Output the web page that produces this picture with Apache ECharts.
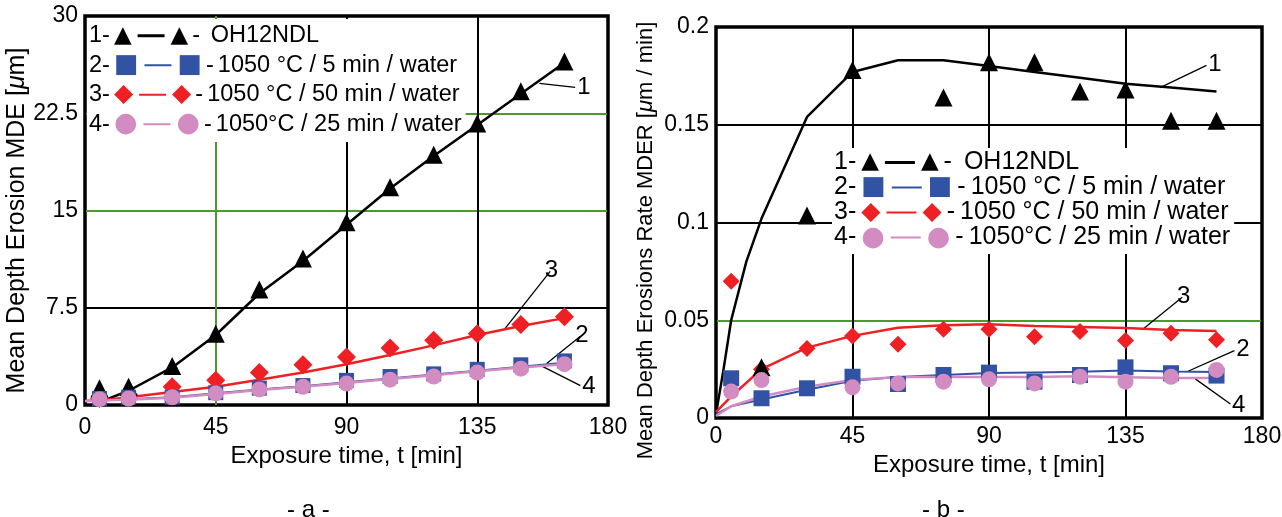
<!DOCTYPE html>
<html>
<head>
<meta charset="utf-8">
<script src="https://cdn.jsdelivr.net/npm/echarts@6/dist/echarts.min.js"></script>
<style>
  html, body { margin: 0; padding: 0; background: #fff; }
  #chart { width: 1282px; height: 517px; }
</style>
</head>
<body>
<div id="chart"></div>
<script>
// ---- data ----
// (a) mean depth erosion MDE [um]
const tA = [5, 15, 30, 45, 60, 75, 90, 105, 120, 135, 150, 165]
const mdeOH = [1.3, 1.4, 3.0, 5.5, 8.9, 11.3, 14.1, 16.8, 19.3, 21.7, 24.2, 26.5]
const mde5 = [0.5, 0.6, 0.6, 0.95, 1.3, 1.5, 1.9, 2.2, 2.4, 2.75, 3.1, 3.4]
const mde50 = [0.5, 0.8, 1.4, 1.9, 2.5, 3.1, 3.7, 4.4, 5.0, 5.5, 6.2, 6.8]
const mde25 = [0.45, 0.5, 0.6, 0.9, 1.2, 1.4, 1.65, 1.95, 2.2, 2.5, 2.8, 3.15]
// fitted curves (a)
const tFitOH = [7, 15, 30, 45, 60, 75, 90, 105, 120, 135, 150, 165]
const fitOH = [0.4, 1.1, 2.9, 5.4, 8.6, 11.1, 13.9, 16.7, 19.2, 21.6, 24.0, 26.4]
const tFitA = [0, 5, 15, 30, 45, 60, 75, 90, 105, 120, 135, 150, 165]
const fit50 = [0.3, 0.35, 0.6, 1.0, 1.4, 1.95, 2.5, 3.15, 3.85, 4.6, 5.4, 6.1, 6.7]
const fit5 = [0.3, 0.35, 0.45, 0.6, 0.9, 1.2, 1.45, 1.75, 2.05, 2.35, 2.65, 2.95, 3.25]
const fit25 = [0.3, 0.35, 0.4, 0.55, 0.85, 1.15, 1.4, 1.7, 2.0, 2.3, 2.6, 2.9, 3.15]

// (b) mean depth erosion rate MDER [um/min]
const tOHb = [15, 30, 45, 75, 90, 105, 120, 135, 150, 165]
const rateOH = [0.026, 0.1036, 0.178, 0.164, 0.182, 0.182, 0.167, 0.168, 0.152, 0.152]
const tB = [5, 15, 30, 45, 60, 75, 90, 105, 120, 135, 150, 165]
const rate50 = [0.070, 0.025, 0.0356, 0.042, 0.0377, 0.0454, 0.0454, 0.0416, 0.0442, 0.0396, 0.0433, 0.040]
const rate5 = [0.0203, 0.0101, 0.0152, 0.0211, 0.0174, 0.022, 0.0232, 0.0186, 0.022, 0.0259, 0.0229, 0.0217]
const t25b = [5, 15, 45, 60, 75, 90, 105, 120, 135, 150, 165]
const rate25 = [0.0135, 0.0194, 0.0157, 0.0177, 0.0186, 0.0198, 0.0177, 0.0211, 0.0186, 0.0211, 0.0246]
// fitted curves (b)
const tFitOHb = [0, 2.5, 5, 10, 15, 30, 45, 60, 75, 90, 105, 120, 135, 150, 165]
const fitOHb = [0.002, 0.025, 0.05, 0.08, 0.102, 0.154, 0.177, 0.183, 0.183, 0.180, 0.177, 0.174, 0.171, 0.169, 0.167]
const tFitB = [0, 5, 15, 30, 45, 60, 75, 90, 105, 120, 135, 150, 165]
const fit50b = [0.003, 0.011, 0.025, 0.036, 0.042, 0.0462, 0.0475, 0.048, 0.047, 0.0465, 0.046, 0.045, 0.0445]
const fit5b = [0.002, 0.006, 0.0095, 0.0145, 0.019, 0.021, 0.022, 0.023, 0.0233, 0.0236, 0.0243, 0.0238, 0.0235]
const fit25b = [0.001, 0.006, 0.011, 0.016, 0.0195, 0.021, 0.021, 0.021, 0.021, 0.0213, 0.0209, 0.0205, 0.0204]

// curve number callouts: [from, to, label] in data units
const calloutsA = [
  [[156.4, 24.8], [168.7, 24.5], '1'],
  [[144.2, 5.8], [160.1, 10.3], '3'],
  [[158.9, 3.2], [170.5, 5.3], '2'],
  [[156.4, 3.1], [170.5, 1.5], '4']
]
const calloutsB = [
  [[146.4, 0.169], [161.7, 0.1804], '1'],
  [[140.9, 0.0456], [153.7, 0.0618], '3'],
  [[155.6, 0.0239], [170.9, 0.0345], '2'],
  [[158.0, 0.020], [169.6, 0.0072], '4']
]

const seriesNames = ['OH12NDL', '1050 °C / 5 min / water', '1050 °C / 50 min / water', '1050°C / 25 min / water']

// ---- styles ----
const FONT = '"Liberation Sans", Arial, sans-serif'
const SYM = '"DejaVu Sans", sans-serif'
const BLACK = '#000', BLUE = '#3253a4', RED = '#ee2024', PINK = '#d28cc2', GREEN = '#4c9a2a'

const chart = echarts.init(document.getElementById('chart'), null, { renderer: 'canvas' })

function pairs(xs, ys) { return xs.map((x, i) => [x, ys[i]]) }

function legendTitle(left, top, lh, fs, lineW, gap) {
  const base = { lineHeight: lh }
  const rich = {
    n: { ...base, fontSize: fs, fontFamily: FONT, color: BLACK },
    tri: { ...base, fontSize: 23, color: BLACK, fontFamily: SYM },
    sq: { ...base, fontSize: 26, color: BLUE, fontFamily: SYM },
    dm: { ...base, fontSize: 25, color: RED, fontFamily: SYM },
    ci: { ...base, fontSize: 27, color: PINK, fontFamily: SYM },
    l0: { width: lineW, height: 3, backgroundColor: BLACK, fontSize: 2 },
    l1: { width: lineW, height: 2, backgroundColor: BLUE, fontSize: 2 },
    l2: { width: lineW, height: 2, backgroundColor: RED, fontSize: 2 },
    l3: { width: lineW, height: 2, backgroundColor: PINK, fontSize: 2 },
    g: { width: 6, fontSize: 2 },
    s: { width: gap, fontSize: 2 }
  }
  const sym = ['tri', 'sq', 'dm', 'ci']
  const glyph = ['▲', '■', '◆', '●']
  const rows = seriesNames.map((nm, i) =>
    `{n|${i + 1}-}{s| }{${sym[i]}|${glyph[i]}}{g| }{l${i}| }{g| }{${sym[i]}|${glyph[i]}}{s| }{n|-}{s| }{n|${i === 0 ? ' ' : ''}${nm}}`)
  return {
    left, top, text: rows.join('\n'), z: 5,
    backgroundColor: '#fff', padding: [2, 4, 3, 2],
    textStyle: { fontSize: fs, fontWeight: 'normal', fontFamily: FONT, lineHeight: lh, rich }
  }
}

function calloutLine(list) {
  return {
    silent: true, symbol: ['none', 'none'], animation: false,
    lineStyle: { color: BLACK, width: 1.3, type: 'solid' },
    label: { show: true, position: 'end', distance: 2, formatter: p => p.name, fontSize: 24, color: BLACK, fontFamily: FONT },
    emphasis: { disabled: true },
    data: list.map(c => [{ coord: c[0], name: c[2] }, { coord: c[1] }])
  }
}

function xAxis(gridIndex, colors, margin, gap) {
  return {
    gridIndex, type: 'value', min: 0, max: 180, interval: 45,
    name: 'Exposure time, t [min]', nameLocation: 'middle', nameGap: gap,
    nameTextStyle: { fontSize: 24, color: BLACK, fontFamily: FONT },
    axisLine: { show: false }, axisTick: { show: false },
    axisLabel: { fontSize: 23, color: BLACK, fontFamily: FONT, margin },
    splitLine: { show: true, lineStyle: { color: colors, width: 2 } }
  }
}

function yAxis(gridIndex, max, interval, name, gap, fs, shift, colors) {
  return {
    gridIndex, type: 'value', min: 0, max, interval,
    name, nameLocation: 'middle', nameGap: gap,
    nameTextStyle: {
      fontSize: fs, color: BLACK, fontFamily: FONT, padding: [0, shift, 0, 0],
      rich: { i: { fontSize: fs, fontStyle: 'italic', fontFamily: FONT } }
    },
    axisLine: { show: false }, axisTick: { show: false },
    axisLabel: { fontSize: 23, color: BLACK, fontFamily: FONT, margin: 7 },
    splitLine: { show: true, lineStyle: { color: colors, width: 2 } }
  }
}

// series sit above the white legend boxes (title z 5)
function fit(idx, xs, ys, color, width, extra) {
  return Object.assign({
    type: 'line', xAxisIndex: idx, yAxisIndex: idx, data: pairs(xs, ys),
    symbol: 'none', lineStyle: { color, width }, silent: true, z: 7
  }, extra || {})
}

function marks(idx, xs, ys, symbol, size, color) {
  return {
    type: 'scatter', xAxisIndex: idx, yAxisIndex: idx, data: pairs(xs, ys),
    symbol, symbolSize: size, itemStyle: { color, opacity: 1 }, silent: true, z: 8
  }
}

const capStyle = { fontSize: 24, fontWeight: 'normal', fontFamily: FONT, color: BLACK }

chart.setOption({
  animation: false,
  backgroundColor: '#fff',
  title: [
    legendTitle(87, 19, 29.5, 23.5, 27, 4),
    legendTitle(832, 148, 25, 25, 30, 5),
    { text: '- a -', left: 282, top: 493, textStyle: capStyle },
    { text: '- b -', left: 917, top: 493, textStyle: capStyle }
  ],
  grid: [
    { left: 85, top: 16, width: 523, height: 389, show: true, borderColor: BLACK, borderWidth: 3.5, backgroundColor: 'transparent', outerBoundsMode: 'none' },
    { left: 716, top: 27, width: 546, height: 391, show: true, borderColor: BLACK, borderWidth: 3.5, backgroundColor: 'transparent', outerBoundsMode: 'none' }
  ],
  xAxis: [
    xAxis(0, [BLACK, GREEN, BLACK, BLACK, BLACK], 11, 30),
    xAxis(1, [BLACK, BLACK, BLACK, BLACK, BLACK], 7, 23)
  ],
  yAxis: [
    yAxis(0, 30, 7.5, 'Mean Depth Erosion MDE [{i|μ}m]', 47, 25, 20, [BLACK, BLACK, GREEN, GREEN, BLACK]),
    yAxis(1, 0.2, 0.05, 'Mean Depth Erosions Rate MDER [{i|μ}m / min]', 59, 22, 36, [BLACK, GREEN, BLACK, BLACK, BLACK])
  ],
  series: [
    // (a)
    fit(0, tFitOH, fitOH, BLACK, 2.5, { markLine: calloutLine(calloutsA) }),
    fit(0, tFitA, fit50, RED, 2.5),
    fit(0, tFitA, fit5, BLUE, 2),
    fit(0, tFitA, fit25, PINK, 2.5),
    marks(0, tA, mde50, 'diamond', 19, RED),
    marks(0, tA, mdeOH, 'triangle', 18, BLACK),
    marks(0, tA, mde5, 'rect', 15, BLUE),
    marks(0, tA, mde25, 'circle', 16, PINK),
    // (b)
    fit(1, tFitOHb, fitOHb, BLACK, 2.5, { markLine: calloutLine(calloutsB) }),
    fit(1, tFitB, fit50b, RED, 2.5),
    fit(1, tFitB, fit5b, BLUE, 2),
    fit(1, tFitB, fit25b, PINK, 2.5),
    marks(1, tB, rate50, 'diamond', 17, RED),
    marks(1, tOHb, rateOH, 'triangle', 18, BLACK),
    marks(1, tB, rate5, 'rect', 16, BLUE),
    marks(1, t25b, rate25, 'circle', 16, PINK)
  ]
})
</script>
</body>
</html>
